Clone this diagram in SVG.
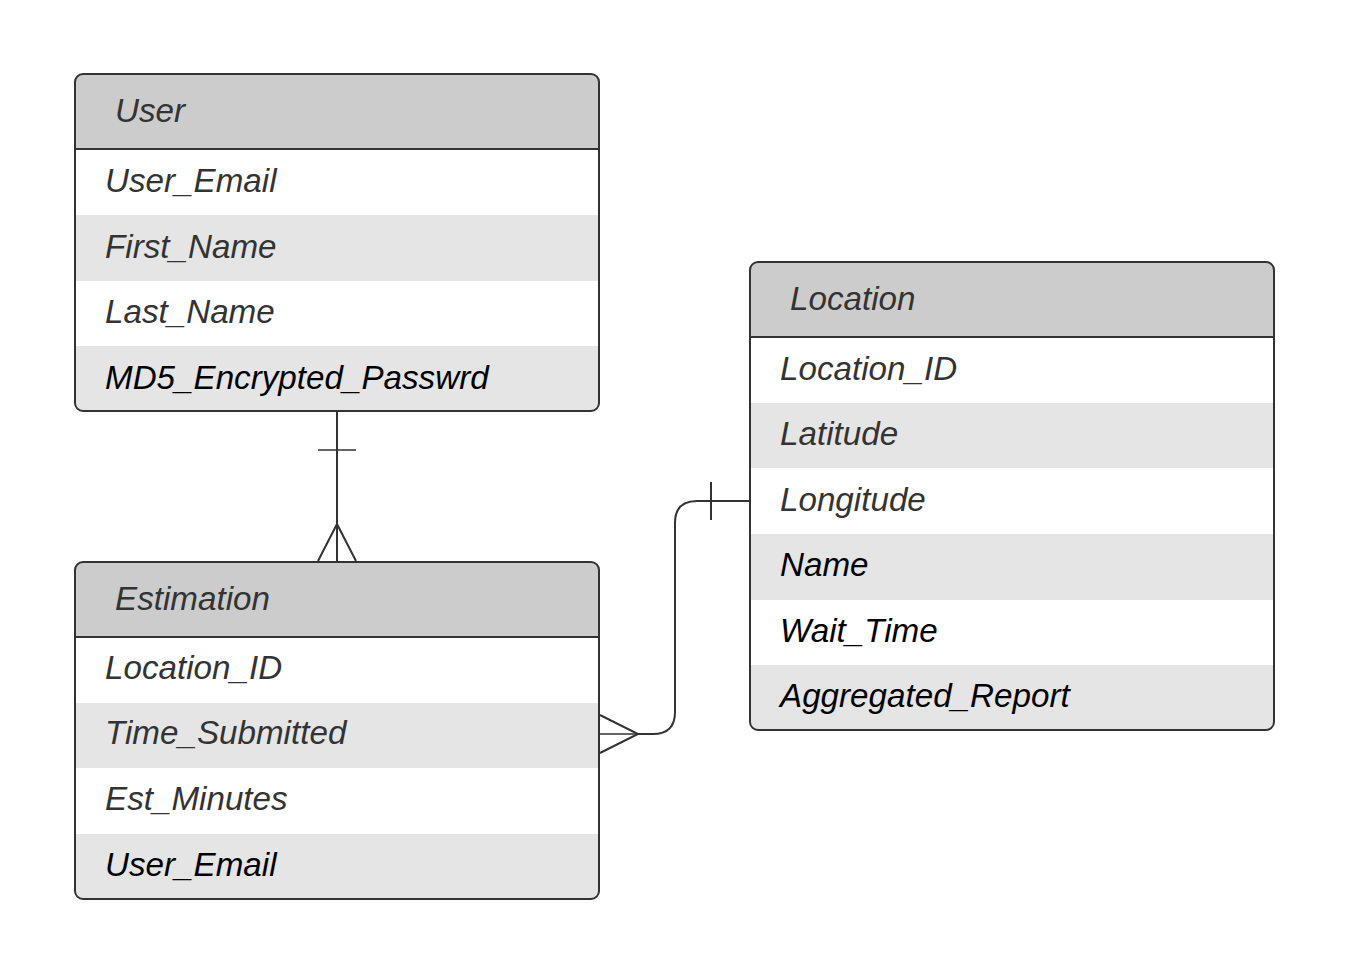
<svg xmlns="http://www.w3.org/2000/svg" width="1350" height="975" viewBox="0 0 1350 975">
<style>
.hdr{fill:#cccccc}
.alt{fill:#e5e5e5}
.wht{fill:#ffffff}
.frame{fill:none;stroke:#333333;stroke-width:2}
.sep{stroke:#333333;stroke-width:2}
text{font-family:"Liberation Sans",Arial,sans-serif;font-style:italic;font-size:33.2px}
.t{fill:#333333}
.b{fill:#000000}
.c{fill:none;stroke:#333333;stroke-width:2}
.thin{fill:none;stroke:#333333;stroke-width:1.3}
</style>
<defs>
<clipPath id="cu"><rect x="75" y="74" width="524" height="337" rx="8"/></clipPath>
<clipPath id="ce"><rect x="75" y="562" width="524" height="337" rx="8"/></clipPath>
<clipPath id="cl"><rect x="750" y="262" width="524" height="468" rx="8"/></clipPath>
</defs>
<rect width="1350" height="975" fill="#ffffff"/>

<g id="user">
<g clip-path="url(#cu)">
<rect class="hdr" x="75" y="74" width="524" height="75"/>
<rect class="wht" x="75" y="149" width="524" height="66"/>
<rect class="alt" x="75" y="215" width="524" height="66"/>
<rect class="wht" x="75" y="281" width="524" height="65"/>
<rect class="alt" x="75" y="346" width="524" height="65"/>
</g>
<line class="sep" x1="75" y1="149" x2="599" y2="149"/>
<rect class="frame" x="75" y="74" width="524" height="337" rx="8"/>
<text class="t" x="115" y="122">User</text>
<text class="t" x="105" y="192">User_Email</text>
<text class="t" x="105" y="258">First_Name</text>
<text class="t" x="105" y="323">Last_Name</text>
<text class="b" x="105" y="389">MD5_Encrypted_Passwrd</text>
</g>

<g id="estimation">
<g clip-path="url(#ce)">
<rect class="hdr" x="75" y="562" width="524" height="75"/>
<rect class="wht" x="75" y="637" width="524" height="66"/>
<rect class="alt" x="75" y="703" width="524" height="65"/>
<rect class="wht" x="75" y="768" width="524" height="66"/>
<rect class="alt" x="75" y="834" width="524" height="65"/>
</g>
<line class="sep" x1="75" y1="637" x2="599" y2="637"/>
<rect class="frame" x="75" y="562" width="524" height="337" rx="8"/>
<text class="t" x="115" y="610">Estimation</text>
<text class="t" x="105" y="679">Location_ID</text>
<text class="t" x="105" y="744">Time_Submitted</text>
<text class="t" x="105" y="810">Est_Minutes</text>
<text class="b" x="105" y="876">User_Email</text>
</g>

<g id="location">
<g clip-path="url(#cl)">
<rect class="hdr" x="750" y="262" width="524" height="75"/>
<rect class="wht" x="750" y="337" width="524" height="66"/>
<rect class="alt" x="750" y="403" width="524" height="65"/>
<rect class="wht" x="750" y="468" width="524" height="66"/>
<rect class="alt" x="750" y="534" width="524" height="66"/>
<rect class="wht" x="750" y="600" width="524" height="65"/>
<rect class="alt" x="750" y="665" width="524" height="65"/>
</g>
<line class="sep" x1="750" y1="337" x2="1274" y2="337"/>
<rect class="frame" x="750" y="262" width="524" height="468" rx="8"/>
<text class="t" x="790" y="310">Location</text>
<text class="t" x="780" y="380">Location_ID</text>
<text class="t" x="780" y="445">Latitude</text>
<text class="t" x="780" y="511">Longitude</text>
<text class="b" x="780" y="576">Name</text>
<text class="b" x="780" y="642">Wait_Time</text>
<text class="b" x="780" y="707">Aggregated_Report</text>
</g>

<g id="connectors">
<line class="c" x1="337" y1="411" x2="337" y2="562"/>
<line class="thin" x1="318" y1="450" x2="356" y2="450"/>
<polyline class="c" points="318,561 337,524 356,561"/>
<path class="c" d="M750,501 H697 Q675,501 675,523 V712 Q675,734 653,734 H638"/>
<line class="c" x1="711" y1="482" x2="711" y2="520"/>
<line class="thin" x1="600" y1="734" x2="638" y2="734"/>
<polyline class="c" points="600,715 638,734 600,753"/>
</g>
</svg>
